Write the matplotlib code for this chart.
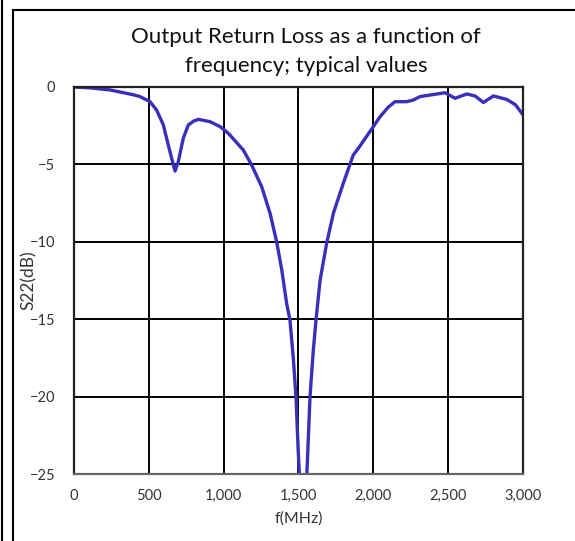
import matplotlib
matplotlib.use("Agg")
import matplotlib.pyplot as plt
from matplotlib.lines import Line2D
from matplotlib.ticker import FuncFormatter

# 周波数 (MHz) と S22 (dB)
freq_mhz = [0, 100, 241, 396, 441, 508, 552, 597, 630, 664, 675, 697, 730, 764, 800,
            831, 909, 976, 1031, 1131, 1187, 1254, 1310, 1354, 1388, 1421, 1443,
            1466, 1483, 1499, 1506, 1512,
            1550, 1555, 1577, 1599, 1617, 1644, 1688, 1733, 1800, 1866, 1900, 2000,
            2045, 2100, 2145, 2223, 2267, 2312, 2379, 2479, 2546, 2624, 2680, 2735,
            2802, 2891, 2950, 3000]
s22_db = [0.0, -0.05, -0.19, -0.5, -0.62, -0.95, -1.49, -2.45, -3.75, -5.04, -5.43,
          -4.82, -3.31, -2.45, -2.2, -2.09, -2.24, -2.56, -2.99, -4.07, -5.04, -6.44,
          -8.16, -10.0, -11.8, -14.0, -15.05, -17.6, -20.0, -23.7, -25.0, -26.0,
          -26.0, -25.2, -20.0, -17.0, -15.05, -12.5, -10.1, -8.16, -6.2, -4.39, -3.96,
          -2.56, -1.92, -1.3, -0.95, -0.95, -0.84, -0.62, -0.52, -0.37, -0.73, -0.45,
          -0.58, -1.0, -0.58, -0.8, -1.15, -1.8]

x_ticks = [0, 500, 1000, 1500, 2000, 2500, 3000]
y_ticks = [0, -5, -10, -15, -20, -25]

plt.rcParams['font.family'] = ['Lato', 'DejaVu Sans']

fig = plt.figure(figsize=(5.75, 5.41), dpi=100)
ax = fig.add_axes([74 / 575, 1 - 474 / 541, 449 / 575, 387 / 541])

ax.plot(freq_mhz, s22_db, color='#3A2FB8', linewidth=2.4,
        solid_capstyle='round', solid_joinstyle='round')

ax.set_xlim(0, 3000)
ax.set_ylim(-25, 0)
ax.set_xticks(x_ticks)
ax.set_yticks(y_ticks)
ax.xaxis.set_major_formatter(FuncFormatter(lambda v, p: f"{int(v):,}"))
ax.grid(True, color='black', linewidth=1.4)
ax.tick_params(length=0, labelsize=10.5, colors='#333333')
ax.tick_params(axis='x', pad=11)
ax.tick_params(axis='y', pad=13.5)
for s in ax.spines.values():
    s.set_linewidth(1.6)
    s.set_color('#222222')
ax.spines['bottom'].set_color('#666666')

ax.set_xlabel("f(MHz)", fontsize=11.5, color='#333333', labelpad=6)
ax.set_ylabel("S22(dB)", fontsize=12.5, color='#333333')
ax.yaxis.set_label_coords(-0.083, 0.5)

fig.text(0.532, 1 - 37 / 541, "Output Return Loss as a function of",
         ha='center', va='center', fontsize=16, color='#111111')
fig.text(0.532, 1 - 66 / 541, "frequency; typical values",
         ha='center', va='center', fontsize=16, color='#111111')

# 外枠
fig.add_artist(Line2D([2 / 575, 2 / 575], [0, 1], color='black', linewidth=1.5))
fig.add_artist(Line2D([13 / 575, 13 / 575], [0, 1 - 10 / 541], color='black', linewidth=1.5))
fig.add_artist(Line2D([13 / 575, 1], [1 - 10 / 541, 1 - 10 / 541], color='black', linewidth=1.5))

fig.savefig("out.png", dpi=100)
